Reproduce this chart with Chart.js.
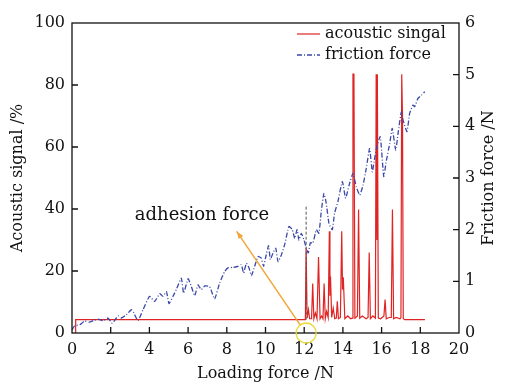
<!DOCTYPE html>
<html>
<head>
<meta charset="utf-8">
<script src="https://cdn.jsdelivr.net/npm/chart.js@4.4.0/dist/chart.umd.min.js"></script>
<style>
  html, body { margin: 0; padding: 0; background: #fff; }
  #wrap { width: 505px; height: 383px; }
</style>
</head>
<body>
<div id="wrap"><canvas id="chart" width="505" height="383"></canvas></div>
<script>
// Señal acústica (%) frente a la fuerza de carga (N)
const acousticX = [0.19, 0.19, 11.95, 12.06, 12.1, 12.15, 12.22, 12.28, 12.38, 12.44, 12.5, 12.58, 12.66, 12.74, 12.82, 12.9, 12.97, 13.03, 13.09, 13.16, 13.24, 13.3, 13.33, 13.36, 13.42, 13.5, 13.58, 13.66, 13.71, 13.77, 13.87, 13.94, 13.98, 14.02, 14.1, 14.25, 14.4, 14.48, 14.52, 14.57, 14.62, 14.75, 14.81, 14.87, 15.0, 15.2, 15.3, 15.36, 15.42, 15.55, 15.68, 15.72, 15.76, 15.78, 15.83, 15.95, 16.12, 16.18, 16.24, 16.38, 16.5, 16.56, 16.62, 16.75, 16.95, 17.0, 17.04, 17.08, 17.12, 17.2, 18.24];
const acousticY = [0, 4.3, 4.3, 4.3, 27.4, 4.8, 7.5, 4.6, 4.6, 16, 4.6, 6.5, 4.6, 24.5, 4.6, 5.5, 4.6, 16, 4.6, 7, 5, 32.8, 12, 18.2, 5, 8, 4.6, 4.8, 10.2, 4.6, 5, 32.8, 14, 18, 4.6, 5.5, 4.6, 4.8, 83.5, 83.5, 4.8, 5.5, 39.8, 4.8, 5.5, 4.6, 5, 26, 4.6, 5.5, 4.8, 83.5, 30, 83.5, 4.8, 4.6, 5.5, 10.8, 4.6, 5, 5, 39.8, 4.6, 5, 4.6, 5, 83.5, 70, 4.6, 4.3, 4.3];

// Fuerza de fricción (N), eje derecho
const frictionX = [0, 0.14, 0.4, 0.65, 0.9, 1.1, 1.35, 1.6, 1.86, 2.08, 2.38, 2.55, 2.8, 3.07, 3.19, 3.41, 3.67, 4.01, 4.27, 4.53, 4.7, 4.88, 5.01, 5.22, 5.39, 5.65, 5.77, 6.0, 6.17, 6.34, 6.51, 6.68, 6.86, 7.11, 7.37, 7.63, 7.89, 8.06, 8.32, 8.58, 8.75, 8.87, 9.01, 9.15, 9.27, 9.44, 9.61, 9.78, 9.9, 10.0, 10.16, 10.25, 10.39, 10.53, 10.65, 10.82, 10.99, 11.21, 11.39, 11.51, 11.63, 11.73, 11.85, 11.99, 12.11, 12.21, 12.32, 12.45, 12.63, 12.76, 12.89, 13.02, 13.14, 13.28, 13.45, 13.57, 13.74, 13.97, 14.14, 14.32, 14.52, 14.69, 14.87, 15.04, 15.21, 15.38, 15.52, 15.64, 15.73, 15.93, 16.11, 16.24, 16.42, 16.55, 16.73, 16.85, 17.02, 17.11, 17.31, 17.45, 17.62, 17.71, 17.88, 18.05, 18.23];
const frictionY = [0.06, 0.14, 0.16, 0.23, 0.21, 0.24, 0.27, 0.24, 0.29, 0.19, 0.33, 0.29, 0.35, 0.45, 0.39, 0.24, 0.45, 0.71, 0.61, 0.76, 0.71, 0.8, 0.57, 0.71, 0.84, 1.06, 0.77, 1.05, 0.9, 0.72, 0.93, 0.84, 0.91, 0.9, 0.66, 0.97, 1.19, 1.26, 1.27, 1.29, 1.32, 1.16, 1.35, 1.26, 1.11, 1.29, 1.48, 1.45, 1.29, 1.45, 1.69, 1.42, 1.55, 1.64, 1.38, 1.51, 1.71, 2.06, 2.0, 1.83, 2.0, 1.8, 1.93, 1.8, 1.64, 1.55, 1.75, 1.74, 2.0, 1.93, 2.38, 2.7, 2.51, 2.12, 2.0, 2.32, 2.54, 2.93, 2.61, 2.86, 3.09, 2.83, 2.67, 2.86, 3.19, 3.57, 3.12, 3.38, 3.57, 3.8, 3.03, 3.32, 3.67, 3.96, 3.54, 3.86, 4.28, 4.12, 3.9, 4.25, 4.41, 4.38, 4.54, 4.6, 4.67];

// Línea vertical discontinua en el punto de adhesión
const markerX = [12.1, 12.1];
const markerY = [4.3, 41];

// Etiquetas y anotación
const xTitle = 'Loading force /N';
const yTitle = 'Acoustic signal /%';
const y2Title = 'Friction force /N';
const legendOrder = ['acoustic singal', 'friction force'];
const noteText = 'adhesion force';
const arrowFrom = { x: 11.78, y: 2.7 };
const arrowTo = { x: 8.51, y: 32.8 };
const noteAt = { x: 6.72, y: 37.8 };
const circleAt = { x: 12.1, y: 0 };

const FONT = '"DejaVu Serif", "Liberation Serif", serif';
const toPts = (xs, ys) => xs.map((x, i) => ({ x: x, y: ys[i] }));

const decor = {
  id: 'decor',
  afterDatasetsDraw(chart) {
    const { ctx, chartArea: a, scales: { x, y, y2 } } = chart;
    ctx.save();

    // marco
    ctx.strokeStyle = '#111';
    ctx.lineWidth = 1.3;
    ctx.strokeRect(a.left, a.top, a.right - a.left, a.bottom - a.top);

    // marcas hacia dentro
    ctx.beginPath();
    x.ticks.forEach(t => {
      if (t.value <= 0 || t.value >= 20) return;
      const px = x.getPixelForValue(t.value);
      ctx.moveTo(px, a.bottom); ctx.lineTo(px, a.bottom - 6);
    });
    y.ticks.forEach(t => {
      if (t.value <= 0 || t.value >= 100) return;
      const py = y.getPixelForValue(t.value);
      ctx.moveTo(a.left, py); ctx.lineTo(a.left + 6, py);
    });
    y2.ticks.forEach(t => {
      if (t.value <= 0 || t.value >= 6) return;
      const py = y2.getPixelForValue(t.value);
      ctx.moveTo(a.right, py); ctx.lineTo(a.right - 6, py);
    });
    ctx.stroke();

    // título del eje derecho (girado como el izquierdo)
    ctx.save();
    ctx.translate(a.right + 30, (a.top + a.bottom) / 2);
    ctx.rotate(-Math.PI / 2);
    ctx.font = '16px ' + FONT;
    ctx.fillStyle = '#111';
    ctx.textAlign = 'center';
    ctx.textBaseline = 'middle';
    ctx.fillText(y2Title, 0, 0);
    ctx.restore();

    // círculo amarillo
    ctx.strokeStyle = '#e6dc3c';
    ctx.lineWidth = 1.3;
    ctx.beginPath();
    ctx.arc(x.getPixelForValue(circleAt.x), y.getPixelForValue(circleAt.y), 10, 0, Math.PI * 2);
    ctx.stroke();

    // flecha naranja
    const x0 = x.getPixelForValue(arrowFrom.x), y0 = y.getPixelForValue(arrowFrom.y);
    const x1 = x.getPixelForValue(arrowTo.x), y1 = y.getPixelForValue(arrowTo.y);
    const ang = Math.atan2(y1 - y0, x1 - x0);
    ctx.strokeStyle = '#f0a63a';
    ctx.fillStyle = '#f0a63a';
    ctx.lineWidth = 1.5;
    ctx.beginPath();
    ctx.moveTo(x0, y0); ctx.lineTo(x1, y1);
    ctx.stroke();
    ctx.beginPath();
    ctx.moveTo(x1, y1);
    ctx.lineTo(x1 - 8 * Math.cos(ang - 0.35), y1 - 8 * Math.sin(ang - 0.35));
    ctx.lineTo(x1 - 8 * Math.cos(ang + 0.35), y1 - 8 * Math.sin(ang + 0.35));
    ctx.closePath();
    ctx.fill();

    // texto de la anotación
    ctx.font = '18px ' + FONT;
    ctx.fillStyle = '#111';
    ctx.textAlign = 'center';
    ctx.textBaseline = 'middle';
    ctx.fillText(noteText, x.getPixelForValue(noteAt.x), y.getPixelForValue(noteAt.y));

    // leyenda
    ctx.font = '16px ' + FONT;
    ctx.textAlign = 'left';
    legendOrder.forEach((name, i) => {
      const d = chart.data.datasets.find(ds => ds.label === name);
      const ly = a.top + 11 + i * 21;
      const lx = a.right - 162;
      ctx.strokeStyle = d.borderColor;
      ctx.lineWidth = d.borderWidth;
      ctx.setLineDash(d.borderDash || []);
      ctx.beginPath();
      ctx.moveTo(lx, ly); ctx.lineTo(lx + 23, ly);
      ctx.stroke();
      ctx.setLineDash([]);
      ctx.fillStyle = '#111';
      ctx.fillText(d.label, lx + 28, ly);
    });
    ctx.restore();
  }
};

const tickFont = { family: FONT, size: 16 };

const ctx = document.getElementById('chart').getContext('2d');
const chart = new Chart(ctx, {
  type: 'line',
  data: {
    datasets: [
      {
        label: '',
        data: toPts(markerX, markerY),
        yAxisID: 'y',
        borderColor: '#555',
        borderWidth: 1,
        borderDash: [3, 2],
        pointRadius: 0,
        fill: false
      },
      {
        label: 'friction force',
        data: toPts(frictionX, frictionY),
        yAxisID: 'y2',
        borderColor: '#3b48a8',
        borderWidth: 1.3,
        borderDash: [5, 2, 1, 2],
        pointRadius: 0,
        tension: 0.15,
        fill: false
      },
      {
        label: 'acoustic singal',
        data: toPts(acousticX, acousticY),
        yAxisID: 'y',
        borderColor: '#e02424',
        borderWidth: 1.2,
        pointRadius: 0,
        tension: 0,
        fill: false
      }
    ]
  },
  options: {
    responsive: false,
    animation: false,
    layout: { padding: { top: 23, left: 0, right: 0, bottom: 0 } },
    plugins: { legend: { display: false }, tooltip: { enabled: false } },
    scales: {
      x: {
        type: 'linear', min: 0, max: 20,
        ticks: { stepSize: 2, color: '#111', font: tickFont, padding: 7 },
        grid: { display: false, drawTicks: false },
        border: { display: false },
        title: { display: true, text: xTitle, color: '#111', font: tickFont, padding: { top: 0, bottom: 0 } },
        afterFit: s => { s.height = 50; }
      },
      y: {
        position: 'left', min: 0, max: 100,
        ticks: { stepSize: 20, color: '#111', font: tickFont, padding: 7 },
        grid: { display: false, drawTicks: false },
        border: { display: false },
        title: { display: true, text: yTitle, color: '#111', font: tickFont, padding: { top: 8, bottom: 0 } },
        afterFit: s => { s.width = 72; }
      },
      y2: {
        position: 'right', min: 0, max: 6,
        ticks: { stepSize: 1, color: '#111', font: tickFont, padding: 6 },
        grid: { display: false, drawTicks: false },
        border: { display: false },
        afterFit: s => { s.width = 46; }
      }
    }
  },
  plugins: [decor]
});
</script>
</body>
</html>
